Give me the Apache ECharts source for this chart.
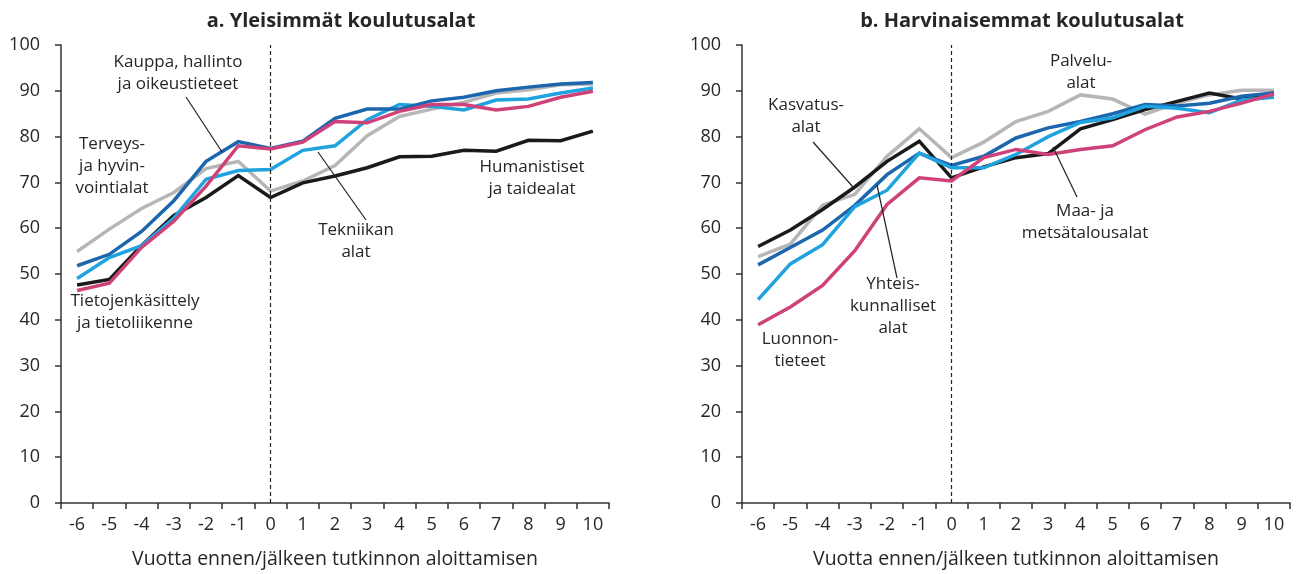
<!DOCTYPE html>
<html>
<head>
<meta charset="utf-8">
<script src="https://cdn.jsdelivr.net/npm/echarts@6/dist/echarts.min.js"></script>
<style>
  html, body { margin: 0; padding: 0; background: #fff; }
  #main { width: 1298px; height: 574px; }
</style>
</head>
<body>
<div id="main"></div>
<script>
const years = ['-6','-5','-4','-3','-2','-1','0','1','2','3','4','5','6','7','8','9','10'];
const yTicks = [0, 10, 20, 30, 40, 50, 60, 70, 80, 90, 100];

// a. Yleisimmät koulutusalat
const humanistiset = [47.6, 48.8, 56.2, 62.8, 66.7, 71.5, 66.7, 69.9, 71.4, 73.2, 75.6, 75.7, 77.0, 76.8, 79.2, 79.1, 81.2];
const kauppa = [51.8, 54.3, 59.3, 66.0, 74.6, 78.9, 77.4, 79.0, 84.0, 86.0, 86.0, 87.8, 88.6, 90.0, 90.8, 91.5, 91.8];
const tietojenkasittely = [46.4, 48.0, 55.8, 61.5, 69.2, 78.0, 77.3, 78.8, 83.3, 83.0, 85.5, 87.0, 87.0, 85.8, 86.6, 88.6, 89.9];
const tekniikka = [49.0, 53.6, 56.2, 62.2, 70.7, 72.6, 72.8, 77.0, 78.0, 83.7, 87.0, 86.6, 85.8, 88.0, 88.2, 89.5, 90.6];
const terveys = [54.9, 59.8, 64.3, 67.8, 73.0, 74.6, 68.1, 70.3, 73.7, 80.2, 84.4, 86.0, 87.5, 89.5, 90.2, 91.3, 91.5];

// b. Harvinaisemmat koulutusalat
const kasvatus = [56.0, 59.6, 64.1, 69.0, 74.6, 79.0, 71.0, 73.4, 75.4, 76.3, 81.7, 83.7, 85.9, 87.7, 89.5, 88.2, 89.5];
const palvelu = [53.8, 56.5, 65.0, 67.4, 75.7, 81.7, 75.4, 78.8, 83.3, 85.5, 89.1, 88.2, 84.9, 87.3, 89.1, 90.1, 90.1];
const yhteiskunnalliset = [52.0, 55.8, 59.6, 65.0, 71.7, 76.4, 73.7, 75.7, 79.7, 81.9, 83.3, 85.0, 87.0, 86.7, 87.3, 88.8, 89.5];
const maametsa = [44.4, 52.2, 56.4, 64.7, 68.3, 76.4, 73.2, 73.2, 76.1, 80.0, 83.1, 84.1, 86.6, 86.2, 85.2, 88.0, 88.6];
const luonnontieteet = [38.9, 42.8, 47.5, 55.1, 65.2, 71.0, 70.3, 75.4, 77.2, 76.1, 77.2, 78.0, 81.5, 84.3, 85.5, 87.3, 89.3];

const BLACK = '#1a1a1a', DBLUE = '#1c66ae', LBLUE = '#1fa3de', PINK = '#cf4179', GRAY = '#b6b6b8';
const FONT = 'Open Sans';
const TXT = '#262626';

let chart = echarts.init(document.getElementById('main'), null, { renderer: 'canvas' });

function xAx(idx) {
    return {
        type: 'category', gridIndex: idx, data: years, boundaryGap: true,
        name: 'Vuotta ennen/jälkeen tutkinnon aloittamisen',
        nameLocation: 'middle', nameGap: 46,
        nameTextStyle: { fontFamily: FONT, fontSize: 19.5, color: TXT },
        axisLine: { lineStyle: { color: '#333', width: 1.5 } },
        axisTick: { show: true, inside: false, length: 6, alignWithLabel: false, lineStyle: { color: '#333', width: 1.5 } },
        axisLabel: { fontFamily: FONT, fontSize: 18, color: TXT, margin: 13, interval: 0 },
        splitLine: { show: false }
    };
}
function yAx(idx) {
    return {
        type: 'value', gridIndex: idx, min: yTicks[0], max: yTicks[yTicks.length - 1], interval: 10,
        axisLine: { show: true, lineStyle: { color: '#333', width: 1.5 } },
        axisTick: { show: true, length: 6, lineStyle: { color: '#333', width: 1.5 } },
        axisLabel: { fontFamily: FONT, fontSize: 18, color: TXT, margin: 21 },
        splitLine: { show: false }
    };
}
function line(name, data, color, idx, z) {
    return {
        name: name, type: 'line', data: data, xAxisIndex: idx, yAxisIndex: idx,
        symbol: 'none', smooth: false, z: z,
        lineStyle: { color: color, width: 3.5, join: 'miter' },
        itemStyle: { color: color }
    };
}
function dashed(idx) {
    return {
        type: 'line', data: [], xAxisIndex: idx, yAxisIndex: idx, silent: true,
        markLine: {
            symbol: 'none', silent: true, label: { show: false },
            lineStyle: { color: '#222', type: [4, 3], width: 1.2 },
            data: [{ xAxis: '0' }]
        }
    };
}

// annotations (text + leader lines), pixel placement
const notes = [
    { x: 178, y: 63, t: 'Kauppa, hallinto\nja oikeustieteet' },
    { x: 112, y: 145, t: 'Terveys-\nja hyvin-\nvointialat' },
    { x: 135, y: 302, t: 'Tietojenkäsittely\nja tietoliikenne' },
    { x: 356, y: 231, t: 'Tekniikan\nalat' },
    { x: 532, y: 168, t: 'Humanistiset\nja taidealat' },
    { x: 806, y: 106, t: 'Kasvatus-\nalat' },
    { x: 893, y: 285, t: 'Yhteis-\nkunnalliset\nalat' },
    { x: 800, y: 340, t: 'Luonnon-\ntieteet' },
    { x: 1081, y: 62, t: 'Palvelu-\nalat' },
    { x: 1085, y: 212, t: 'Maa- ja\nmetsätalousalat' }
];
const leaders = [
    [186, 97, 222, 152],
    [318, 152, 366, 220],
    [813, 142, 853, 187],
    [877, 185, 897, 278],
    [1053, 147, 1077, 197]
];

const graphics = [];
notes.forEach(n => graphics.push({
    type: 'text', x: n.x, y: n.y - 12, z: 100,
    style: { text: n.t, fill: TXT, font: '17px "' + FONT + '"', textAlign: 'center', textVerticalAlign: 'top', lineHeight: 22 }
}));
leaders.forEach(l => graphics.push({
    type: 'line', z: 100, shape: { x1: l[0], y1: l[1], x2: l[2], y2: l[3] },
    style: { stroke: '#222', lineWidth: 1.2 }
}));

option = {
    backgroundColor: '#fff',
    animation: false,
    title: [
        { text: 'a. Yleisimmät koulutusalat', left: 336, top: 6, textAlign: 'center',
          textStyle: { fontFamily: FONT, fontSize: 20, fontWeight: 'bold', color: TXT } },
        { text: 'b. Harvinaisemmat koulutusalat', left: 1017, top: 6, textAlign: 'center',
          textStyle: { fontFamily: FONT, fontSize: 20, fontWeight: 'bold', color: TXT } }
    ],
    grid: [
        { left: 61, top: 45, width: 548, height: 460 },
        { left: 742, top: 45, width: 548, height: 460 }
    ],
    xAxis: [xAx(0), xAx(1)],
    yAxis: [yAx(0), yAx(1)],
    graphic: graphics,
    series: [
        dashed(0),
        line('Terveys- ja hyvinvointialat', terveys, GRAY, 0, 2),
        line('Humanistiset ja taidealat', humanistiset, BLACK, 0, 3),
        line('Tekniikan alat', tekniikka, LBLUE, 0, 4),
        line('Kauppa, hallinto ja oikeustieteet', kauppa, DBLUE, 0, 5),
        line('Tietojenkäsittely ja tietoliikenne', tietojenkasittely, PINK, 0, 6),
        dashed(1),
        line('Kasvatusalat', kasvatus, BLACK, 1, 3),
        line('Palvelualat', palvelu, GRAY, 1, 2),
        line('Yhteiskunnalliset alat', yhteiskunnalliset, DBLUE, 1, 4),
        line('Maa- ja metsätalousalat', maametsa, LBLUE, 1, 5),
        line('Luonnontieteet', luonnontieteet, PINK, 1, 6)
    ]
};
chart.setOption(option);
</script>
</body>
</html>
